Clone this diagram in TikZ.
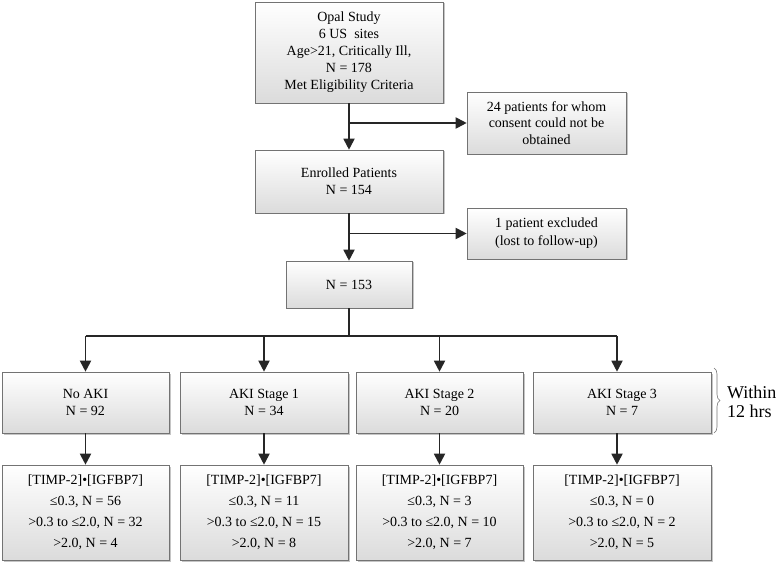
\documentclass[tikz,border=0pt]{standalone}
\usepackage{fontspec}
\setmainfont{Liberation Serif}
\usetikzlibrary{arrows.meta,shadows,decorations.pathreplacing}
\begin{document}
\begin{tikzpicture}[x=1pt,y=1pt,
  box/.style={draw=black!55, line width=0.6pt, top color=white, bottom color=black!14,
    drop shadow={shadow xshift=1.5pt, shadow yshift=-1.5pt, fill=black!45, opacity=0.5},
    align=center, inner sep=0pt, font=\fontsize{14}{17}\selectfont},
  lowbox/.style={box, font=\fontsize{14}{21}\selectfont},
  conn/.style={line width=1.8pt, draw=black!85},
  arr/.style={conn, -{Triangle[length=11pt,width=11pt]}}]
\useasboundingbox (0,0) rectangle (777,-564);
% top part
\node[box, minimum width=188, minimum height=101] (top) at (349,-52.5)
  {Opal Study\\6 US~ sites\\Age>21, Critically Ill,\\N = 178\\Met Eligibility Criteria};
\node[box, minimum width=159, minimum height=62, font=\fontsize{14}{16.5}\selectfont] (cons) at (546.5,-123)
  {24 patients for whom\\consent could not be\\obtained};
\node[box, minimum width=188, minimum height=63] (enr) at (349,-181.5)
  {Enrolled Patients\\N = 154};
\node[box, minimum width=159, minimum height=51, font=\fontsize{14}{18}\selectfont] (excl) at (546.5,-233.5)
  {1 patient excluded\\(lost to follow-up)};
\node[box, minimum width=126, minimum height=47] (n153) at (349,-284.5) {N = 153};
% stage boxes
\node[box, minimum width=167, minimum height=61] (s1) at (85.5,-402.5) {No AKI\\N = 92};
\node[box, minimum width=168, minimum height=61] (s2) at (264,-402.5) {AKI Stage 1\\N = 34};
\node[box, minimum width=167, minimum height=61] (s3) at (439.5,-402.5) {AKI Stage 2\\N = 20};
\node[box, minimum width=178, minimum height=61] (s4) at (622,-402.5) {AKI Stage 3\\N = 7};
% lower boxes
\node[lowbox, minimum width=167, minimum height=95] (b1) at (85.5,-512.5)
  {[TIMP-2]•[IGFBP7]\\≤0.3, N = 56\\>0.3 to ≤2.0, N = 32\\>2.0, N = 4};
\node[lowbox, minimum width=168, minimum height=95] (b2) at (264,-512.5)
  {[TIMP-2]•[IGFBP7]\\≤0.3, N = 11\\>0.3 to ≤2.0, N = 15\\>2.0, N = 8};
\node[lowbox, minimum width=167, minimum height=95] (b3) at (439.5,-512.5)
  {[TIMP-2]•[IGFBP7]\\≤0.3, N = 3\\>0.3 to ≤2.0, N = 10\\>2.0, N = 7};
\node[lowbox, minimum width=178, minimum height=95] (b4) at (622,-512.5)
  {[TIMP-2]•[IGFBP7]\\≤0.3, N = 0\\>0.3 to ≤2.0, N = 2\\>2.0, N = 5};
% brace and label
\coordinate (bt) at (714,-368);
\coordinate (bb) at (714,-433);
\draw[black!55, line width=0.6pt, decorate, decoration={brace, amplitude=6pt}] (bt) -- (bb);
\node[anchor=west, align=left, inner sep=0pt, font=\fontsize{18}{18.5}\selectfont] (within) at (727,-402)
  {Within\\12 hrs};
% connectors
\coordinate (hb) at (349,-336);
\coordinate (l1) at (85.5,-336);
\coordinate (l4) at (617,-336);
\draw[arr] (top.south) -- (enr.north);
\draw[arr] (top.south |- cons.west) -- (cons.west);
\draw[arr] (enr.south) -- (n153.north);
\draw[arr] (enr.south |- excl.west) -- (excl.west);
\draw[conn] (n153.south) -- (hb);
\draw[conn] (l1) -- (l4);
\draw[arr] (l1) -- (s1.north);
\draw[arr] (l1 -| s2.north) -- (s2.north);
\draw[arr] (l1 -| s3.north) -- (s3.north);
\draw[arr] (l4) -- (l4 |- s4.north);
\draw[arr] (s1.south) -- (b1.north);
\draw[arr] (s2.south) -- (b2.north);
\draw[arr] (s3.south) -- (b3.north);
\draw[arr] (l4 |- s4.south) -- (l4 |- b4.north);
\end{tikzpicture}
\end{document}
